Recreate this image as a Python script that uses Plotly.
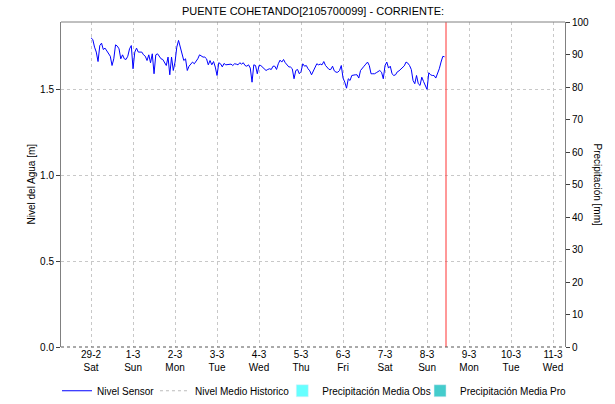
import plotly.graph_objects as go
import pandas as pd

# ---- data ----
day_labels = ["29-2", "1-3", "2-3", "3-3", "4-3", "5-3", "6-3", "7-3", "8-3", "9-3", "10-3", "11-3"]
weekday_labels = ["Sat", "Sun", "Mon", "Tue", "Wed", "Thu", "Fri", "Sat", "Sun", "Mon", "Tue", "Wed"]
tick_dates = pd.date_range("2020-02-29", "2020-03-11", freq="D")

sensor_start = "2020-02-29 00:00"
nivel_29_2 = [1.798, 1.788, 1.744, 1.715, 1.660, 1.753, 1.767, 1.730, 1.738, 1.724, 1.707, 1.691,
              1.637, 1.676, 1.757, 1.750, 1.734, 1.676, 1.699, 1.676, 1.672, 1.691, 1.734, 1.753]
nivel_1_3 = [1.618, 1.715, 1.738, 1.715, 1.715, 1.715, 1.699, 1.691, 1.666, 1.699, 1.653, 1.705,
             1.589, 1.699, 1.705, 1.691, 1.676, 1.672, 1.653, 1.637, 1.686, 1.583, 1.686, 1.608]
nivel_2_3 = [1.657, 1.744, 1.783, 1.744, 1.719, 1.666, 1.676, 1.608, 1.633, 1.643, 1.657, 1.647,
             1.660, 1.676, 1.699, 1.691, 1.686, 1.686, 1.676, 1.641, 1.666, 1.641, 1.660, 1.628]
nivel_3_3 = [1.579, 1.653, 1.647, 1.629, 1.649, 1.641, 1.641, 1.641, 1.645, 1.637, 1.647, 1.645,
             1.641, 1.653, 1.645, 1.653, 1.637, 1.633, 1.641, 1.622, 1.540, 1.641, 1.637, 1.589]
nivel_4_3 = [1.637, 1.637, 1.626, 1.614, 1.608, 1.614, 1.618, 1.614, 1.633, 1.633, 1.614, 1.647,
             1.668, 1.657, 1.672, 1.653, 1.637, 1.629, 1.628, 1.618, 1.560, 1.608, 1.614, 1.589]
nivel_5_3 = [1.602, 1.647, 1.633, 1.637, 1.618, 1.606, 1.583, 1.602, 1.622, 1.647, 1.641, 1.645,
             1.641, 1.660, 1.637, 1.622, 1.614, 1.614, 1.633, 1.606, 1.598, 1.598, 1.608, 1.637]
nivel_6_3 = [1.564, 1.540, 1.505, 1.560, 1.550, 1.579, 1.583, 1.583, 1.583, 1.564, 1.608, 1.618,
             1.633, 1.645, 1.657, 1.637, 1.589, 1.589, 1.589, 1.595, 1.602, 1.608, 1.598, 1.560]
nivel_7_3 = [1.637, 1.657, 1.622, 1.633, 1.589, 1.579, 1.583, 1.600, 1.606, 1.614, 1.622, 1.635,
             1.657, 1.651, 1.637, 1.614, 1.550, 1.531, 1.579, 1.531, 1.521, 1.569, 1.544, 1.517]
nivel_8_3 = [1.498, 1.595, 1.583, 1.579, 1.579, 1.564, 1.589, 1.618, 1.657, 1.690, 1.688]

nivel_sensor = (nivel_29_2 + nivel_1_3 + nivel_2_3 + nivel_3_3 + nivel_4_3 +
                nivel_5_3 + nivel_6_3 + nivel_7_3 + nivel_8_3)
sensor_times = pd.date_range(sensor_start, periods=len(nivel_sensor), freq="h")

now_time = "2020-03-08 10:50"
x_range = ["2020-02-28 06:50", "2020-03-11 06:50"]
y_left_range = [0, 1.89]
y_right_range = [0, 100]

# ---- figure ----
FONT = "Liberation Sans, Arial, sans-serif"
fig = go.Figure()

fig.add_trace(go.Scatter(x=sensor_times, y=nivel_sensor, mode="lines", name="Nivel Sensor",
                         line=dict(color="#0000FF", width=1), legend="legend"))
fig.add_trace(go.Scatter(x=[None], y=[None], mode="lines", name="Nivel Medio Historico",
                         line=dict(color="#BBBBBB", width=1, dash="dot"), legend="legend2"))
fig.add_trace(go.Bar(x=[None], y=[None], name="Precipitación Media Obs",
                     marker=dict(color="#66FFFF"), yaxis="y2", legend="legend3"))
fig.add_trace(go.Bar(x=[None], y=[None], name="Precipitación Media Pro",
                     marker=dict(color="#44CCCC"), yaxis="y2", legend="legend4"))

# current time marker
fig.add_shape(type="line", xref="x", yref="paper", x0=now_time, x1=now_time, y0=0, y1=1,
              line=dict(color="#FF3333", width=1))
# frame: top solid, bottom dotted
fig.add_shape(type="line", xref="paper", yref="paper", x0=0, x1=1, y0=1, y1=1,
              line=dict(color="#808080", width=1))
fig.add_shape(type="line", xref="paper", yref="paper", x0=0, x1=1, y0=0, y1=0,
              line=dict(color="#555555", width=1, dash="dot"))

ticktext = [f"{d}<br>{w}" for d, w in zip(day_labels, weekday_labels)]


def legend_at(xpos):
    return dict(orientation="h", xref="container", x=xpos, xanchor="left",
                y=-0.09, yanchor="top", bgcolor="rgba(0,0,0,0)",
                font=dict(size=10, family=FONT), itemwidth=30)


fig.update_layout(
    width=615, height=404,
    margin=dict(l=61, r=50, t=22, b=57, autoexpand=False),
    paper_bgcolor="white", plot_bgcolor="white",
    font=dict(family=FONT, size=10, color="#000000"),
    showlegend=True,
    legend=legend_at(0.0927),
    legend2=legend_at(0.252),
    legend3=legend_at(0.459),
    legend4=legend_at(0.683),
    xaxis=dict(type="date", range=x_range, tickmode="array", tickvals=tick_dates,
               ticktext=ticktext, showgrid=True, gridcolor="#C8C8C8", griddash="dot",
               gridwidth=1, showline=False, zeroline=False, ticks="",
               tickfont=dict(size=10), automargin=False),
    yaxis=dict(range=y_left_range, tickmode="array", tickvals=[0, 0.5, 1.0, 1.5],
               ticktext=["0.0", "0.5", "1.0", "1.5"], showgrid=True, gridcolor="#C8C8C8",
               griddash="dot", showline=True, linecolor="#808080", linewidth=1,
               ticks="outside", ticklen=4, tickcolor="#404040", zeroline=False,
               automargin=False),
    yaxis2=dict(range=y_right_range, overlaying="y", side="right", tickmode="linear",
                tick0=0, dtick=10, showgrid=False, showline=True, linecolor="#808080",
                linewidth=1, ticks="outside", ticklen=4, tickcolor="#404040", zeroline=False,
                automargin=False),
    bargap=0,
)

fig.add_annotation(text="PUENTE COHETANDO[2105700099] - CORRIENTE:", xref="paper", yref="paper",
                   x=0.5, y=1, xanchor="center", yanchor="bottom", yshift=3, showarrow=False,
                   font=dict(size=11, family=FONT))
fig.add_annotation(text="Nivel del Agua [m]", xref="paper", yref="paper", x=0, y=0.5,
                   xanchor="center", yanchor="middle", xshift=-30, textangle=-90,
                   showarrow=False, font=dict(size=10, family=FONT))
fig.add_annotation(text="Precipitación [mm]", xref="paper", yref="paper", x=1.0, y=0.5,
                   xanchor="center", yanchor="middle", xshift=32, textangle=90,
                   showarrow=False, font=dict(size=10, family=FONT))

fig.write_html("out.html", config={"displayModeBar": False},
               post_script="document.body.style.margin='0px';document.body.style.overflow='hidden';")
